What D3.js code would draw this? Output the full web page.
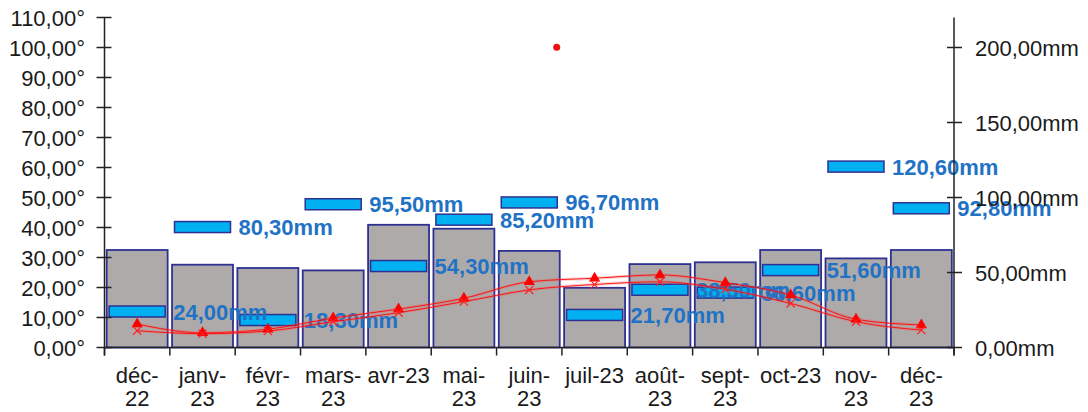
<!DOCTYPE html>
<html><head><meta charset="utf-8">
<script src="https://cdn.jsdelivr.net/npm/d3@7"></script>
<style>
html,body{margin:0;padding:0;background:#fff;}
svg{display:block;font-family:"Liberation Sans",Arial,sans-serif;}
</style></head>
<body>
<svg id="c" width="1088" height="412"></svg>
<script>
const categories = ["déc-22","janv-23","févr-23","mars-23","avr-23","mai-23","juin-23","juil-23","août-23","sept-23","oct-23","nov-23","déc-23"];
const grayBars = [32.5,27.6,26.5,25.7,40.9,39.6,32.2,19.9,27.8,28.4,32.5,29.7,32.5];
const rainMM = [24.00,80.30,18.30,95.50,54.30,85.20,96.70,21.70,38.50,36.60,51.60,120.60,92.80];
const tempTriangle = [7.8,4.9,6.1,9.8,12.8,16.4,21.9,23.1,24.2,21.6,17.5,9.4,7.5];
const tempCross = [5.6,4.6,5.5,8.6,11.6,15.3,19.2,21.0,21.9,19.4,14.7,8.6,5.8];
const leftTicks = [0,10,20,30,40,50,60,70,80,90,100,110];
const rightTicks = [0,50,100,150,200];
const outlierPoint = {x: 6.92, value: 100.1};

const fmt = v => v.toFixed(2).replace(".", ",");
const svg = d3.select("#c");
const L = 104.5, R = 954, T = 17.5, B = 347.5;

const x = d3.scaleBand().domain(categories).range([L, R]).padding(0);
const xIdx = d3.scaleLinear().domain([0, categories.length]).range([L, R]);
const yL = d3.scaleLinear().domain([0, 110]).range([B, T]);
const yR = d3.scaleLinear().domain([0, 220]).range([B, T]);
const cx = c => x(c) + x.bandwidth() / 2;

// gray bars
svg.append("g").selectAll("rect").data(categories).join("rect")
  .attr("x", c => x(c) + 2.2).attr("width", x.bandwidth() - 4.4)
  .attr("y", (c, i) => yL(grayBars[i])).attr("height", (c, i) => B - yL(grayBars[i]))
  .attr("fill", "#aeaaaa").attr("stroke", "#2e3192").attr("stroke-width", 1.8);

// blue rain markers
const rw = 56, rh = 11;
svg.append("g").selectAll("rect").data(categories).join("rect")
  .attr("x", c => cx(c) - rw / 2).attr("width", rw)
  .attr("y", (c, i) => yR(rainMM[i]) - rh / 2).attr("height", rh)
  .attr("fill", "#00b0f0").attr("stroke", "#2e3192").attr("stroke-width", 1.5);

svg.append("g").selectAll("text").data(categories).join("text")
  .attr("x", c => cx(c) + rw / 2 + 8)
  .attr("y", (c, i) => yR(rainMM[i]) + 8)
  .attr("font-size", 22).attr("font-weight", "bold").attr("fill", "#1f72c4")
  .text((c, i) => fmt(rainMM[i]) + "mm");

// temperature lines
const line = d3.line().x((d, i) => cx(categories[i])).y(d => yL(d)).curve(d3.curveMonotoneX);
[tempTriangle, tempCross].forEach(s => {
  svg.append("path").attr("d", line(s)).attr("fill", "none")
    .attr("stroke", "#ff5050").attr("stroke-width", 3).attr("opacity", 0.3);
  svg.append("path").attr("d", line(s)).attr("fill", "none")
    .attr("stroke", "#ff0000").attr("stroke-width", 1).attr("opacity", 0.85);
});
svg.append("g").selectAll("path").data(tempTriangle).join("path")
  .attr("d", d3.symbol(d3.symbolTriangle, 55))
  .attr("transform", (d, i) => `translate(${cx(categories[i])},${yL(d)})`)
  .attr("fill", "#ff0000");
svg.append("g").selectAll("path").data(tempCross).join("path")
  .attr("d", d3.symbol(d3.symbolX, 45))
  .attr("transform", (d, i) => `translate(${cx(categories[i])},${yL(d)})`)
  .attr("fill", "none").attr("stroke", "#ff2020").attr("stroke-width", 1.2);

svg.append("circle").attr("cx", xIdx(outlierPoint.x)).attr("cy", yL(outlierPoint.value))
  .attr("r", 3.5).attr("fill", "#ee1111");

// axes
const ax = svg.append("g").attr("stroke", "#222").attr("stroke-width", 1.5);
ax.append("line").attr("x1", L).attr("x2", L).attr("y1", T).attr("y2", B + 8);
ax.append("line").attr("x1", R).attr("x2", R).attr("y1", T).attr("y2", B + 8);
ax.append("line").attr("x1", L).attr("x2", R).attr("y1", B).attr("y2", B);
ax.selectAll(".lt").data(leftTicks).join("line")
  .attr("x1", L - 8).attr("x2", L + 7).attr("y1", d => yL(d)).attr("y2", d => yL(d));
ax.selectAll(".rt").data(rightTicks).join("line")
  .attr("x1", R - 7).attr("x2", R + 8).attr("y1", d => yR(d)).attr("y2", d => yR(d));
ax.selectAll(".xt").data(d3.range(categories.length + 1)).join("line")
  .attr("x1", d => xIdx(d)).attr("x2", d => xIdx(d)).attr("y1", B).attr("y2", B + 8);

svg.append("g").selectAll("text").data(leftTicks).join("text")
  .attr("x", 85).attr("y", d => yL(d) + 8).attr("text-anchor", "end")
  .attr("font-size", 22).attr("fill", "#1a1a1a").text(d => fmt(d) + "°");
svg.append("g").selectAll("text").data(rightTicks).join("text")
  .attr("x", 975).attr("y", d => yR(d) + 8)
  .attr("font-size", 22).attr("fill", "#1a1a1a").text(d => fmt(d) + "mm");

const xl = svg.append("g");
categories.forEach(c => {
  const t = xl.append("text").attr("x", cx(c)).attr("y", 382.5).attr("text-anchor", "middle")
    .attr("font-size", 22).attr("fill", "#1a1a1a").text(c);
  if (t.node().getComputedTextLength() > x.bandwidth() - 1) {
    const k = c.indexOf("-") + 1;
    t.text(null);
    t.append("tspan").attr("x", cx(c)).attr("dy", 0).text(c.slice(0, k));
    t.append("tspan").attr("x", cx(c)).attr("dy", 23.5).text(c.slice(k));
  }
});
</script>
</body></html>
